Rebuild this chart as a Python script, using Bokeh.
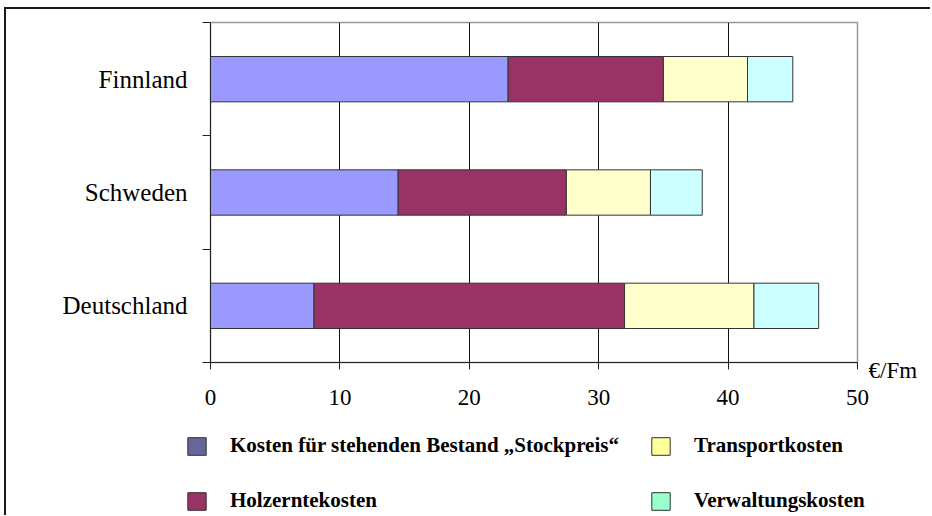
from bokeh.plotting import figure
from bokeh.layouts import column
from bokeh.models import (ColumnDataSource, FixedTicker, Legend, LegendItem, LinearAxis)
from bokeh.core.properties import value
from bokeh.embed import file_html
from bokeh.resources import INLINE

# ---- data ----
countries = ["Deutschland", "Schweden", "Finnland"]
stockpreis = [8, 14.5, 23]
holzernte = [24, 13, 12]
transport = [10, 6.5, 6.5]
verwaltung = [5, 4, 3.5]
x_ticks = [0, 10, 20, 30, 40, 50]
unit_label = "€/Fm"

series_names = ["Kosten für stehenden Bestand „Stockpreis“", "Holzerntekosten",
                "Transportkosten", "Verwaltungskosten"]
bar_colors = ["#9999FF", "#993366", "#FFFFCC", "#CCFFFF"]
legend_colors = ["#666699", "#993366", "#FFFF99", "#99FFCC"]

ypos = [i + 0.5 for i in range(len(countries))]
src = ColumnDataSource(dict(y=ypos, s=stockpreis, h=holzernte, t=transport, v=verwaltung))

SERIF = "Liberation Serif"

p = figure(width=924, height=408, output_backend="svg", toolbar_location=None,
           x_range=(0, 50), y_range=(0, len(countries)),
           min_border_left=204, min_border_right=73, min_border_top=13, min_border_bottom=55,
           background_fill_color="white", border_fill_color="white")

p.hbar_stack(["s", "h", "t", "v"], y="y", height=0.4, color=bar_colors,
             line_color="#333333", line_width=1, source=src)

# grid / outline
p.xgrid.ticker = FixedTicker(ticks=[10, 20, 30, 40])
p.xgrid.grid_line_color = "#111111"
p.xgrid.grid_line_width = 1
p.ygrid.grid_line_color = None
p.outline_line_color = "#999999"
p.outline_line_width = 1.5

# x axis
p.xaxis.ticker = FixedTicker(ticks=x_ticks)
p.xaxis.axis_line_color = "#222222"
p.xaxis.major_tick_line_color = "#222222"
p.xaxis.major_tick_out = 7
p.xaxis.major_tick_in = 0
p.xaxis.minor_tick_line_color = None
p.xaxis.major_label_text_font = SERIF
p.xaxis.major_label_text_font_size = "23px"
p.xaxis.major_label_text_color = "black"
p.xaxis.major_label_standoff = 20

# y axis: labels at centers, tick marks at category boundaries
p.yaxis.ticker = FixedTicker(ticks=ypos, minor_ticks=list(range(len(countries) + 1)))
p.yaxis.major_label_overrides = {yv: c for yv, c in zip(ypos, countries)}
p.yaxis.major_tick_line_color = None
p.yaxis.minor_tick_line_color = "#222222"
p.yaxis.minor_tick_out = 8
p.yaxis.minor_tick_in = 0
p.yaxis.axis_line_color = "#222222"
p.yaxis.major_label_text_font = SERIF
p.yaxis.major_label_text_font_size = "25px"
p.yaxis.major_label_text_color = "black"
p.yaxis.major_label_standoff = 15

# unit label at the end of the x axis
unit_axis = LinearAxis(ticker=FixedTicker(ticks=[0], minor_ticks=[]),
                       major_label_overrides={0: "\n" + unit_label},
                       axis_line_color=None, major_tick_line_color=None,
                       minor_tick_line_color=None, major_label_standoff=5,
                       major_label_text_baseline="top",
                       major_label_text_line_height=0.6,
                       major_label_text_font=SERIF, major_label_text_font_size="23px",
                       major_label_text_color="black")
p.add_layout(unit_axis, "right")

# ---- legend panel (second figure, same width) ----
lg = figure(width=924, height=98, output_backend="svg", toolbar_location=None,
            x_range=(0, 1), y_range=(0, 1), min_border=0,
            background_fill_color="white", border_fill_color="white")
lg.axis.visible = False
lg.grid.visible = False
lg.outline_line_color = None
for fig in (p, lg):
    try:
        fig.frame_align = False
    except Exception:
        pass

items = []
for name, col in zip(series_names, legend_colors):
    # swatch renderers sit outside the visible range; only their legend swatch shows
    r = lg.hbar(y=[-5], left=[0], right=[1], height=0.4, fill_color=col,
                line_color="#333333", line_width=1)
    items.append(LegendItem(label=value(name), renderers=[r]))

legend = Legend(items=items, location=(179, 2), orientation="vertical", nrows=2,
                glyph_width=23, glyph_height=22, label_standoff=22, spacing=30,
                padding=0, margin=0, label_height=22,
                label_text_font=SERIF, label_text_font_style="bold", label_text_font_size="21px",
                label_text_color="black",
                border_line_color=None, background_fill_alpha=0)
lg.add_layout(legend, "center")

layout = column(p, lg, spacing=0,
                styles={"border-top": "2px solid #1a1a1a", "border-left": "2px solid #1a1a1a",
                        "margin-left": "4px", "margin-top": "7px"})

open("out.html", "w").write(file_html(layout, INLINE))
